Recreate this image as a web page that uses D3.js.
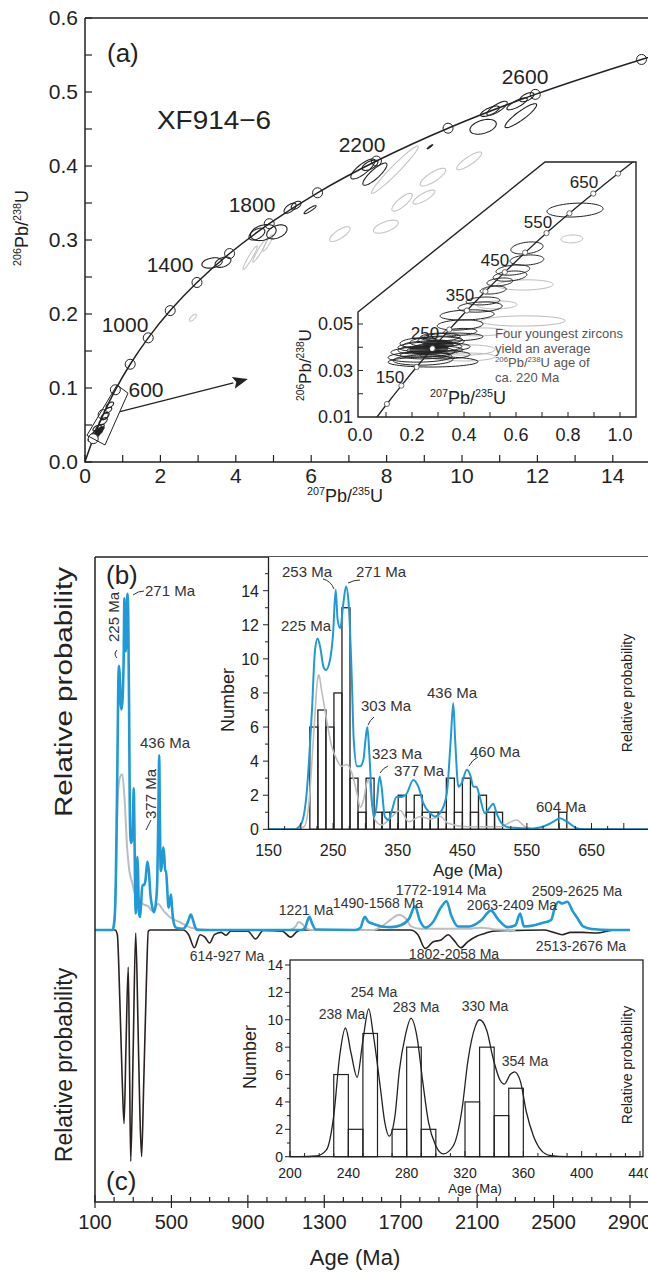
<!DOCTYPE html>
<html><head><meta charset="utf-8">
<script src="https://cdn.jsdelivr.net/npm/d3@7"></script>
<style>
body{margin:0;background:#fff}
svg{display:block}
text{font-family:"Liberation Sans",Arial,Helvetica,sans-serif}
</style></head><body>
<svg id="c" width="648" height="1272"></svg>
<script>
// ================= DATA =================
// Panel (a): concordia reference points (207Pb/235U, 206Pb/238U) at ages (Ma)
const concAges=[0,50,100,200,300,400,600,800,1000,1200,1400,1600,1800,2000,2200,2400,2600,2800,2850];
const concX=[0,0.0505,0.1035,0.2177,0.3435,0.4822,0.8056,1.1988,1.6774,2.2604,2.9701,3.8345,4.8870,6.1686,7.7295,9.6300,11.944,14.762,15.557];
const concY=[0,0.0078,0.0156,0.0315,0.0476,0.0640,0.0976,0.1321,0.1678,0.2046,0.2426,0.2817,0.3221,0.3638,0.4067,0.4511,0.4968,0.5440,0.5560];
const concMarkAges=[200,400,600,800,1000,1200,1400,1600,1800,2000,2200,2400,2600,2800];
const concLabelAges=[600,1000,1400,1800,2200,2600];
const aXTicks=[0,1,2,3,4,5,6,7,8,9,10,11,12,13,14,15];
const aXLabels=[0,2,4,6,8,10,12,14];
const aYTicks=[0,0.05,0.1,0.15,0.2,0.25,0.3,0.35,0.4,0.45,0.5,0.55,0.6];
const aYLabels=[0,0.1,0.2,0.3,0.4,0.5,0.6];
// error ellipses [x, y, halfX, halfY, rho]
const ellBlackA=[
 [7.37,0.396,0.32,0.0135,0.8],[7.69,0.389,0.32,0.0150,0.85],[7.56,0.401,0.21,0.007,0.6],
 [10.93,0.478,0.27,0.0095,0.8],[10.56,0.453,0.35,0.0100,0.4],[11.56,0.468,0.42,0.0162,0.9],
 [11.46,0.484,0.27,0.0081,0.8],[11.72,0.493,0.19,0.0061,0.6],[10.74,0.474,0.25,0.007,0.7],
 [5.44,0.343,0.16,0.0068,0.6],[5.60,0.347,0.13,0.0054,0.5],[5.97,0.341,0.16,0.0054,0.9],
 [4.73,0.310,0.34,0.0108,0.3],[5.09,0.311,0.27,0.0095,0.4],[4.56,0.308,0.21,0.008,0.5],
 [3.37,0.269,0.27,0.007,0.3],[3.66,0.270,0.21,0.007,0.4],
 [0.19,0.032,0.11,0.004,0.6],[0.27,0.038,0.11,0.004,0.6],[0.34,0.042,0.11,0.004,0.6],
 [0.40,0.047,0.11,0.004,0.6],[0.32,0.046,0.11,0.004,0.6],[0.48,0.055,0.11,0.005,0.6],
 [0.53,0.062,0.11,0.005,0.6],[0.61,0.070,0.1,0.004,0.6],[0.66,0.077,0.1,0.004,0.6]
];
const ellFillA=[[9.15,0.426,0.08,0.003,0.9],[0.29,0.035,0.09,0.0035,0.6],[0.37,0.040,0.1,0.004,0.6],[0.42,0.044,0.09,0.004,0.6],[0.33,0.038,0.08,0.004,0.6]];
const ellGreyA=[
 [8.22,0.395,0.62,0.032,0.97],[9.23,0.385,0.34,0.012,0.8],[8.99,0.358,0.29,0.0095,0.8],
 [10.19,0.407,0.33,0.012,0.85],[8.41,0.351,0.27,0.012,0.8],[7.98,0.318,0.33,0.0088,0.6],
 [6.76,0.308,0.27,0.010,0.75],[4.38,0.276,0.19,0.016,0.95],[4.64,0.286,0.19,0.016,0.95],
 [4.85,0.296,0.13,0.011,0.9],[2.86,0.195,0.093,0.0047,0.7]
];
// reference box and arrow (data coordinates)
const boxCorners=[[0.05,0.036],[0.53,0.023],[1.14,0.093],[0.85,0.104]];
const arrowPts=[[0.93,0.068],[4.32,0.112]];

// Inset of (a)
const insAges=[50,100,150,200,250,300,350,400,450,500,550,600,650,700,750];
const insX=[0.0505,0.1035,0.1592,0.2177,0.2790,0.3435,0.4111,0.4822,0.5568,0.6351,0.7173,0.8056,0.8972,0.9925,1.0930];
const insY=[0.0078,0.0156,0.0235,0.0315,0.0395,0.0476,0.0558,0.0640,0.0723,0.0807,0.0891,0.0976,0.1061,0.1147,0.1234];
const insLabelAges=[150,250,350,450,550,650];
const insXTicks=[0.1,0.2,0.3,0.4,0.5,0.6,0.7,0.8,0.9,1.0];
const insXLabels=[0,0.2,0.4,0.6,0.8,1.0];
const insYTicks=[0.02,0.03,0.04,0.05];
const insYLabels=[0.01,0.03,0.05];
const ellBlackI=[
 [0.827,0.0990,0.108,0.0030,0.2],[0.642,0.0827,0.062,0.0026,0.3],[0.642,0.0775,0.065,0.0022,0.2],
 [0.588,0.0732,0.065,0.0022,0.3],[0.577,0.0706,0.065,0.0022,0.3],[0.538,0.0681,0.05,0.0017,0.3],
 [0.512,0.0646,0.05,0.0017,0.3],[0.473,0.0599,0.065,0.0017,0.2],[0.462,0.0573,0.085,0.0022,0.2],
 [0.412,0.0539,0.104,0.0022,0.2],[0.385,0.0496,0.088,0.0022,0.2],[0.385,0.0466,0.065,0.0015,0.2],
 [0.358,0.0444,0.115,0.0017,0.1],[0.296,0.0423,0.104,0.0022,0.1],[0.269,0.0401,0.123,0.0022,0.1],
 [0.242,0.0380,0.123,0.0022,0.1],[0.231,0.0358,0.123,0.0022,0.1],[0.281,0.0337,0.173,0.0022,0.05],
 [0.231,0.0418,0.077,0.0022,0.1],[0.308,0.0444,0.077,0.0017,0.1],[0.335,0.0401,0.088,0.0017,0.1],
 [0.242,0.0345,0.115,0.0022,0.1],[0.262,0.0410,0.096,0.0017,0.1],[0.288,0.0388,0.108,0.0017,0.1],
 [0.25,0.0367,0.096,0.0017,0.1],[0.308,0.0431,0.085,0.0017,0.1],[0.223,0.0388,0.077,0.0017,0.1],
 [0.327,0.0367,0.096,0.0017,0.1]
];
const ellFillI=[[0.265,0.0392,0.075,0.0027,0.15],[0.30,0.0415,0.06,0.0018,0.1]];
const ellGreyI=[
 [0.815,0.0866,0.042,0.0017,0.1],[0.635,0.0668,0.108,0.0022,0.1],[0.627,0.0513,0.162,0.0022,0.05],
 [0.462,0.0466,0.104,0.0017,0.1],[0.412,0.0388,0.108,0.0022,0.1],[0.412,0.0358,0.108,0.0017,0.1],
 [0.527,0.0582,0.077,0.0017,0.1]
];
const youngestMean=[0.277,0.0392];

// Panel (b)/(c): age spectra [age (Ma), relative probability]
const blueAges=[100,150,185,191,201,209,217,222,226,230,235,239,245,250,254,257,261,266,270,274,279,282,287,292,297,300,303,306,310,313,317,322,325,330,336,341,348,356,364,374,382,390,400,408,418,426,432,436,439,444,449,457,463,467,472,477,485,493,498,503,511,524,560,581,591,601,612,625,637,700,1180,1200,1212,1222,1235,1255,1460,1490,1502,1512,1530,1560,1600,1650,1700,1745,1775,1800,1830,1870,1910,1940,1965,2000,2060,2120,2172,2210,2260,2300,2325,2345,2400,2432,2487,2505,2525,2545,2572,2600,2625,2655,2700,2800,2900];
const blueVals=[0,0,0,0,0.35,2.1,6.8,10.5,11.2,10.7,9.55,9.35,9.9,11.5,14.05,12.3,11.8,13.3,14.25,13.3,8.8,5.2,3.7,3.7,4.1,5.2,6.0,4.5,1.7,0.7,1.3,3.1,2.5,0.75,0.55,1.1,1.9,1.9,2.1,2.9,2.5,1.5,0.95,0.75,1.1,2.1,5.2,7.4,5.2,2.5,2.7,3.5,3.1,2.5,2.5,1.9,0.95,1.3,1.5,0.95,0.35,0.1,0.05,0.25,0.45,0.65,0.45,0.1,0,0,0,0.1,0.4,0.56,0.3,0.02,0,0.1,0.4,0.56,0.35,0.25,0.15,0.12,0.2,0.5,1.0,0.4,0.1,0.35,0.95,1.22,0.6,0.15,0.15,0.4,0.82,0.45,0.12,0.2,0.7,0.15,0.2,0.28,0.42,0.9,1.2,1.12,1.2,0.8,0.5,0.15,0.04,0,0];
const greyMainAges=[100,195,205,212,220,232,243,255,268,280,295,310,330,350,380,400,430,460,500,540,600,650,700,1120,1150,1165,1185,1210,1240,1560,1600,1650,1690,1725,1755,1800,2050,2120,2200,2300];
const greyMainVals=[0,0,0.8,3,5.8,6.5,6.6,5.5,3.5,2.5,2,1.5,1.3,1.1,1.0,0.8,1.1,0.8,0.5,0.35,0.1,0.03,0,0,0.15,0.34,0.25,0.05,0,0,0.15,0.45,0.65,0.5,0.15,0.05,0.05,0.1,0.02,0];
const blackAges=[100,205,217,230,243,252,262,274,281,287,300,313,325,335,344,355,368,379,390,560,590,620,650,675,700,725,760,786,810,900,941,980,1080,1124,1160,1180,1750,1790,1828,1870,1911,1948,1980,2015,2050,2100,2140,2180,2450,2500,2545,2590,2650,2730,2780,2820,2900];
const blackVals=[0,0,0.2,3.0,6.5,8.2,5.0,1.57,6,9.8,5,0.13,4,7.8,9.6,6.5,2.5,0.05,0,0,0.2,0.75,0.2,0.3,0.55,0.2,0.1,0.22,0.05,0.05,0.38,0.02,0.05,0.3,0.05,0,0,0.2,0.78,0.5,0.42,0.2,0.45,0.75,0.5,0.25,0.15,0.05,0,0.1,0.2,0.1,0.1,0.13,0.05,0,0];
const bcXTicks=d3.range(100,2901,100);
const bcXLabels=[100,500,900,1300,1700,2100,2500,2900];

// Inset of (b)
const greyInsAges=[150,191,205,212,220,226,228,232,240,248,256,263,271,279,287,292,297,302,305,310,315,325,341,354,367,385,400,416,428,457,508,534,547,560,700];
const greyInsVals=[0,0,0.15,1.3,5.6,8.8,9.06,8.2,6.4,4.85,4.07,3.7,3.8,3.3,2.1,1.3,1.7,2.7,2.9,1.5,0.55,0.25,0.75,1.1,0.45,0.75,0.6,0.75,0.35,0.15,0.15,0.55,0.15,0,0];
const histBStart=214, histBWidth=12.43;
const histBCounts=[6,7,6,8,13,3,1,3,1,1,1,2,1,2,1,1,1,3,1,3,1,2,1,1,0,0,0,0,0,0,0,1];
const ibXLabels=[150,250,350,450,550,650];
const ibXTicks=d3.range(150,701,25);
const ibYLabels=[0,2,4,6,8,10,12,14];
const ibYTicks=d3.range(0,16,1);

// Inset of (c)
const cCurveAges=[200,207,218,225,230,234,238,242,246,250,254,257,262,265,268,272,275,279,283,287,291,295,300,305,312,318,322,327,330,335,339,344,347,351,354,358,362,367,372,378,390,440];
const cCurveVals=[0,0,0.05,0.5,3,7.3,9.4,7.5,5.8,8.5,10.8,9,5,2.5,1.5,3,6.3,8.8,10.1,8.8,5.5,2.5,0.8,0.2,0.8,3.5,7,9.5,10.0,9.2,7.3,5.6,5.3,6.0,6.2,5.5,3.3,1.5,0.5,0.1,0,0];
const histCStart=[230,240,250,260,270,280,290,300,310,320,330,340,350];
const histCCounts=[6,2,9,0,2,8,2,0,0,4,8,3,5];
const icXLabels=[200,240,280,320,360,400,440];
const icXTicks=d3.range(200,441,10);
const icYLabels=[0,2,4,6,8,10,12,14];
const icYTicks=d3.range(0,15,1);

// ================= DRAWING =================
const svg=d3.select("#c");
const INK="#222", BLUE="#1f9ad6", GREY="#bdbdbd", LAB="#333";
function rich(g,x,y,parts,size,o={}){
  const t=g.append("text").attr("x",x).attr("y",y).attr("font-size",size)
    .attr("text-anchor",o.anchor||"middle").attr("fill",o.fill||INK);
  if(o.rotate) t.attr("transform",`rotate(${o.rotate},${x},${y})`);
  let up=false;
  parts.forEach(([s,sup])=>{
    const ts=t.append("tspan").text(s);
    if(sup){ts.attr("font-size",size*0.6); if(!up){ts.attr("dy",-size*0.4); up=true;}}
    else if(up){ts.attr("dy",size*0.4); up=false;}
  });
  return t;
}
function txt(g,x,y,s,size,o={}){
  const t=g.append("text").attr("x",x).attr("y",y).attr("font-size",size)
   .attr("text-anchor",o.anchor||"middle").attr("fill",o.fill||INK).text(s);
  if(o.rotate) t.attr("transform",`rotate(${o.rotate},${x},${y})`);
  if(o.len) t.attr("textLength",o.len).attr("lengthAdjust","spacingAndGlyphs");
  return t;
}
function ellPath(d,xs,ys){
  const [x,y,sx,sy,r]=d, k=Math.sqrt(1-r*r), pts=[];
  for(let i=0;i<60;i++){const t=i/60*2*Math.PI;
    pts.push([xs(x+sx*Math.cos(t)), ys(y+sy*(r*Math.cos(t)+k*Math.sin(t)))]);}
  return d3.line().curve(d3.curveLinearClosed)(pts);
}
const zip=(a,b)=>a.map((v,i)=>[v,b[i]]);

// ---------- Panel (a) ----------
const xA=d3.scaleLinear([0,15],[85,650.5]);
const yA=d3.scaleLinear([0,0.6],[462,18]);
const gA=svg.append("g");
svg.append("clipPath").attr("id","clipA").append("rect").attr("x",85).attr("y",18).attr("width",580).attr("height",444);
const pA=gA.append("g").attr("clip-path","url(#clipA)");
const concPts=zip(concX,concY);
pA.append("path").attr("d",d3.line().x(d=>xA(d[0])).y(d=>yA(d[1])).curve(d3.curveCatmullRom)(concPts))
  .attr("fill","none").attr("stroke",INK).attr("stroke-width",1.5);
ellGreyA.forEach(d=>pA.append("path").attr("d",ellPath(d,xA,yA)).attr("fill","none").attr("stroke","#c4c4c4").attr("stroke-width",1.1));
ellBlackA.forEach(d=>pA.append("path").attr("d",ellPath(d,xA,yA)).attr("fill","none").attr("stroke",INK).attr("stroke-width",1.1));
ellFillA.forEach(d=>pA.append("path").attr("d",ellPath(d,xA,yA)).attr("fill",INK).attr("stroke",INK).attr("stroke-width",1));
concMarkAges.forEach(a=>{const i=concAges.indexOf(a);
  pA.append("circle").attr("cx",xA(concX[i])).attr("cy",yA(concY[i])).attr("r",5)
   .attr("fill",a===200?"#fff":"none").attr("stroke",INK).attr("stroke-width",1);});
// box & arrow
pA.append("path").attr("d",d3.line().x(d=>xA(d[0])).y(d=>yA(d[1])).curve(d3.curveLinearClosed)(boxCorners))
 .attr("fill","none").attr("stroke",INK).attr("stroke-width",1);
{const [p0,p1]=arrowPts.map(d=>[xA(d[0]),yA(d[1])]);
 const dx=p1[0]-p0[0],dy=p1[1]-p0[1],L=Math.hypot(dx,dy),ux=dx/L,uy=dy/L;
 const bx=p1[0]-ux*15,by=p1[1]-uy*15;
 pA.append("line").attr("x1",p0[0]).attr("y1",p0[1]).attr("x2",bx).attr("y2",by).attr("stroke",INK).attr("stroke-width",1.3);
 pA.append("path").attr("d",`M${p1[0]},${p1[1]}L${bx-uy*6},${by+ux*6}L${bx+ux*3},${by+uy*3}L${bx+uy*6},${by-ux*6}Z`).attr("fill",INK);}
// axes (a)
gA.append("path").attr("d","M85,18H660M85,18V462H660").attr("fill","none").attr("stroke",INK).attr("stroke-width",1.5);
aXTicks.forEach(v=>gA.append("line").attr("x1",xA(v)).attr("x2",xA(v)).attr("y1",462).attr("y2",455).attr("stroke",INK).attr("stroke-width",1.2));
aYTicks.forEach(v=>gA.append("line").attr("x1",85).attr("x2",92).attr("y1",yA(v)).attr("y2",yA(v)).attr("stroke",INK).attr("stroke-width",1.2));
aXLabels.forEach(v=>txt(gA,xA(v),483,String(v),21));
aYLabels.forEach(v=>txt(gA,78,yA(v)+7,d3.format(".1f")(v),21,{anchor:"end"}));
rich(gA,345,502,[["207",1],["Pb/",0],["235",1],["U",0]],18);
rich(gA,28,228,[["206",1],["Pb/",0],["238",1],["U",0]],18,{rotate:-90});
txt(gA,107,62,"(a)",26,{anchor:"start"});
txt(gA,157,129,"XF914\u22126",26,{anchor:"start",len:114});
const concLabPos={600:[146,397],1000:[125,332],1400:[170,272],1800:[252,212],2200:[362,152],2600:[525,84]};
concLabelAges.forEach(a=>txt(gA,concLabPos[a][0],concLabPos[a][1],String(a),21));

// ---------- Inset of (a) ----------
const xI=d3.scaleLinear([0,1],[360,620]);
const yI=d3.scaleLinear([0.01,0.05],[417,324]);
const poly=[[358,312],[545,162],[636,162],[636,417],[358,417]];
const gI=svg.append("g");
gI.append("path").attr("d",d3.line().curve(d3.curveLinearClosed)(poly)).attr("fill","#fff").attr("stroke",INK).attr("stroke-width",1.4);
svg.append("clipPath").attr("id","clipI").append("path").attr("d",d3.line().curve(d3.curveLinearClosed)(poly));
const pI=gI.append("g").attr("clip-path","url(#clipI)");
ellGreyI.forEach(d=>pI.append("path").attr("d",ellPath(d,xI,yI)).attr("fill","none").attr("stroke","#bbb").attr("stroke-width",1));
ellFillI.forEach(d=>pI.append("path").attr("d",ellPath(d,xI,yI)).attr("fill","#222").attr("fill-opacity",0.75).attr("stroke","none"));
ellBlackI.forEach(d=>pI.append("path").attr("d",ellPath(d,xI,yI)).attr("fill","none").attr("stroke",INK).attr("stroke-width",1));
pI.append("path").attr("d",d3.line().x(d=>xI(d[0])).y(d=>yI(d[1])).curve(d3.curveCatmullRom)(zip(insX,insY)))
 .attr("fill","none").attr("stroke",INK).attr("stroke-width",1.3);
insAges.forEach((a,i)=>{ if(a<=700) pI.append("circle").attr("cx",xI(insX[i])).attr("cy",yI(insY[i])).attr("r",2.6).attr("fill","#fff").attr("stroke","#444").attr("stroke-width",0.8);});
pI.append("circle").attr("cx",xI(youngestMean[0])).attr("cy",yI(youngestMean[1])).attr("r",2).attr("fill","#fff");
insXTicks.forEach(v=>gI.append("line").attr("x1",xI(v)).attr("x2",xI(v)).attr("y1",417).attr("y2",412).attr("stroke",INK));
insYTicks.forEach(v=>gI.append("line").attr("x1",358).attr("x2",363).attr("y1",yI(v)).attr("y2",yI(v)).attr("stroke",INK));
insXLabels.forEach(v=>txt(gI,xI(v),441,d3.format(".1f")(v),18));
insYLabels.forEach(v=>txt(gI,353,yI(v)+6,d3.format(".2f")(v),18,{anchor:"end"}));
rich(gI,468,404,[["207",1],["Pb/",0],["235",1],["U",0]],18);
rich(gI,311,365,[["206",1],["Pb/",0],["238",1],["U",0]],17,{rotate:-90});
const insLabPos={150:[390,383],250:[425,339],350:[460,301],450:[495,266],550:[538,228],650:[584,188]};
insLabelAges.forEach(a=>txt(gI,insLabPos[a][0],insLabPos[a][1],String(a),17));
["Four youngest zircons","yield an average"].forEach((s,i)=>txt(gI,495,338+i*14.5,s,13,{anchor:"start",fill:"#555"}));
rich(gI,495,367,[["206",1],["Pb/",0],["238",1],["U age of",0]],13,{anchor:"start",fill:"#555"});
txt(gI,495,382,"ca. 220 Ma",13,{anchor:"start",fill:"#555"});

// ---------- Panels (b) & (c) ----------
const xB=d3.scaleLinear([100,2900],[95,630]);
const yB=d3.scaleLinear([0,1],[930,906.4]);
const yC=d3.scaleLinear([0,1],[930,953.6]);
const gB=svg.append("g");
svg.append("clipPath").attr("id","clipB").append("rect").attr("x",95).attr("y",557).attr("width",560).attr("height",645);
const pB=gB.append("g").attr("clip-path","url(#clipB)");
const lineB=(ys)=>d3.line().x(d=>xB(d[0])).y(d=>ys(d[1])).curve(d3.curveMonotoneX);
pB.append("path").attr("d",lineB(yC)(zip(blackAges,blackVals))).attr("fill","none").attr("stroke","#2a2220").attr("stroke-width",1.6);
pB.append("path").attr("d",lineB(yB)(zip(greyMainAges,greyMainVals))).attr("fill","none").attr("stroke",GREY).attr("stroke-width",2);
pB.append("path").attr("d",lineB(yB)(zip(blueAges,blueVals))).attr("fill","none").attr("stroke",BLUE).attr("stroke-width",2.6);
gB.append("path").attr("d","M95,557H660M95,557V1202H660").attr("fill","none").attr("stroke",INK).attr("stroke-width",1.5);
bcXTicks.forEach(v=>{const maj=bcXLabels.includes(v);
  gB.append("line").attr("x1",xB(v)).attr("x2",xB(v)).attr("y1",maj?1208:1202).attr("y2",maj?1195:1197).attr("stroke",INK).attr("stroke-width",1.2);});
bcXLabels.forEach(v=>txt(gB,xB(v),1229,String(v),20));
txt(gB,355,1265,"Age (Ma)",22);
txt(gB,72,692,"Relative probability",23,{rotate:-90,len:250});
txt(gB,72,1065,"Relative probability",23,{rotate:-90});
txt(gB,106,584,"(b)",26,{anchor:"start"});
txt(gB,106,1190,"(c)",26,{anchor:"start"});
// main (b) annotations
txt(gB,119,617,"225 Ma",15,{rotate:-90,fill:LAB});
gB.append("path").attr("d","M117,650q-4,4,0,8").attr("fill","none").attr("stroke",LAB);
txt(gB,145,596,"271 Ma",15,{anchor:"start",fill:LAB});
gB.append("path").attr("d","M144,591q-6,0,-11,4").attr("fill","none").attr("stroke",LAB);
txt(gB,140,748,"436 Ma",15,{anchor:"start",fill:LAB});
txt(gB,156,794,"377 Ma",15,{rotate:-90,fill:LAB});
gB.append("line").attr("x1",151).attr("y1",820).attr("x2",146).attr("y2",830).attr("stroke",LAB);
[["1221 Ma",306,915],["1490-1568 Ma",378,908],["1772-1914 Ma",441,895],["2063-2409 Ma",512,910],
 ["2509-2625 Ma",577,896],["614-927 Ma",227,961],["1802-2058 Ma",454,959],["2513-2676 Ma",581,951]]
 .forEach(([s,x,y])=>txt(gB,x,y,s,14,{fill:LAB}));

// ---------- Inset of (b) ----------
const xIB=d3.scaleLinear([150,650],[268.5,591.5]);
const yIB=d3.scaleLinear([0,14],[829.3,590.7]);
const gIB=svg.append("g");
gIB.append("rect").attr("x",268.5).attr("y",557).attr("width",380).attr("height",272.3).attr("fill","#fff");
svg.append("clipPath").attr("id","clipIB").append("rect").attr("x",268.5).attr("y",557).attr("width",380).attr("height",273);
const pIB=gIB.append("g").attr("clip-path","url(#clipIB)");
histBCounts.forEach((c,i)=>{ if(!c) return; const a=histBStart+i*histBWidth;
  pIB.append("rect").attr("x",xIB(a)).attr("width",xIB(a+histBWidth)-xIB(a)).attr("y",yIB(c)).attr("height",yIB(0)-yIB(c))
   .attr("fill","none").attr("stroke",INK).attr("stroke-width",1.3);});
const lineIB=d3.line().x(d=>xIB(d[0])).y(d=>yIB(d[1])).curve(d3.curveMonotoneX);
pIB.append("path").attr("d",lineIB(zip(greyInsAges,greyInsVals))).attr("fill","none").attr("stroke",GREY).attr("stroke-width",1.6);
pIB.append("path").attr("d",lineIB(zip(blueAges,blueVals))).attr("fill","none").attr("stroke",BLUE).attr("stroke-width",2);
gIB.append("path").attr("d","M268.5,557V829.3H660").attr("fill","none").attr("stroke",INK).attr("stroke-width",1.3);
ibYTicks.forEach(v=>gIB.append("line").attr("x1",268.5).attr("x2",v%2?265:263).attr("y1",yIB(v)).attr("y2",yIB(v)).attr("stroke",INK));
ibXTicks.forEach(v=>gIB.append("line").attr("x1",xIB(v)).attr("x2",xIB(v)).attr("y1",829.3).attr("y2",(v-150)%50?826:823).attr("stroke",INK));
ibYLabels.forEach(v=>txt(gIB,259,yIB(v)+6,String(v),16,{anchor:"end"}));
ibXLabels.forEach(v=>txt(gIB,xIB(v),856,String(v),16));
txt(gIB,468,876,"Age (Ma)",17);
txt(gIB,234,700,"Number",18,{rotate:-90});
txt(gIB,632,693,"Relative probability",14,{rotate:-90});
[["253 Ma",307,577],["271 Ma",381,577],["225 Ma",306,631],["303 Ma",386,711],["436 Ma",452,698],
 ["323 Ma",397,759],["377 Ma",419,776],["460 Ma",495,757],["604 Ma",561,812]]
 .forEach(([s,x,y])=>txt(gIB,x,y,s,15,{fill:LAB}));
[["M323,579q8,2,11,10"],["M360,580q-6,0,-12,3"],["M374,717q-4,3,-6,8"],["M388,766q-5,2,-8,7"],["M478,757q-6,3,-9,9"]]
 .forEach(([d])=>gIB.append("path").attr("d",d).attr("fill","none").attr("stroke",LAB));

// ---------- Inset of (c) ----------
const xIC=d3.scaleLinear([200,440],[290,640]);
const yIC=d3.scaleLinear([0,14],[1156.7,965]);
const gIC=svg.append("g");
gIC.append("rect").attr("x",290).attr("y",960).attr("width",353).attr("height",196.7).attr("fill","#fff").attr("stroke",INK).attr("stroke-width",1.3);
histCStart.forEach((a,i)=>{const c=histCCounts[i]; if(!c) return;
  gIC.append("rect").attr("x",xIC(a)).attr("width",xIC(a+10)-xIC(a)).attr("y",yIC(c)).attr("height",yIC(0)-yIC(c))
   .attr("fill","none").attr("stroke",INK).attr("stroke-width",1.2);});
gIC.append("path").attr("d",d3.line().x(d=>xIC(d[0])).y(d=>yIC(d[1])).curve(d3.curveMonotoneX)(zip(cCurveAges,cCurveVals)))
 .attr("fill","none").attr("stroke",INK).attr("stroke-width",1.3);
icYTicks.forEach(v=>gIC.append("line").attr("x1",290).attr("x2",v%2?287:285).attr("y1",yIC(v)).attr("y2",yIC(v)).attr("stroke",INK));
icXTicks.forEach(v=>gIC.append("line").attr("x1",xIC(v)).attr("x2",xIC(v)).attr("y1",1156.7).attr("y2",(v%40)?1153:1151).attr("stroke",INK));
icYLabels.forEach(v=>txt(gIC,283,yIC(v)+5,String(v),14,{anchor:"end"}));
icXLabels.forEach(v=>txt(gIC,xIC(v),1178,String(v),14));
txt(gIC,475,1193,"Age (Ma)",13);
txt(gIC,256,1057,"Number",18,{rotate:-90});
txt(gIC,632,1065,"Relative probability",14,{rotate:-90});
[["238 Ma",342,1019],["254 Ma",374,997],["283 Ma",416,1012],["330 Ma",485,1011],["354 Ma",525,1066]]
 .forEach(([s,x,y])=>txt(gIC,x,y,s,14,{fill:LAB}));
</script>
</body></html>
